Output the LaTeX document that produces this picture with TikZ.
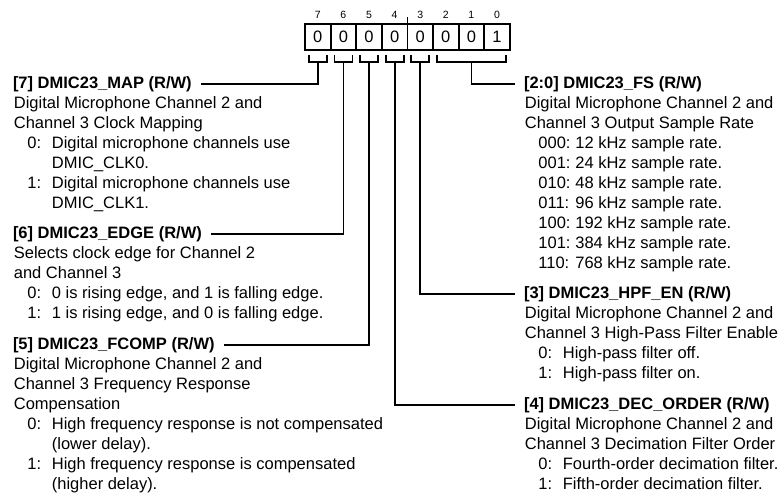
\documentclass[tikz,border=0pt]{standalone}
\usepackage{fontspec}
\setmainfont{Liberation Sans}
\usetikzlibrary{positioning}

% value lines: "0:  text", "000:  text" and wrapped continuation lines
\newcommand{\bitval}[2]{\hspace*{13.5pt}\makebox[24.5pt][l]{#1}#2}
\newcommand{\rateval}[2]{\hspace*{13.5pt}\makebox[37pt][l]{#1}#2}
\newcommand{\wrapln}[1]{\hspace*{38pt}#1}

\begin{document}
\begin{tikzpicture}[
    x=1pt, y=-1pt,
    line width=1.8pt,
    line join=miter,
    cell/.style={draw, minimum width=25.6pt, minimum height=26pt, inner sep=0pt, outer sep=0pt,
        font=\fontsize{16.5}{20}\selectfont},
    bitnum/.style={inner sep=0pt, font=\fontsize{10.5}{12}\selectfont},
    fieldhead/.style={anchor=base west, inner sep=0pt, outer xsep=9pt,
        font=\fontsize{16.5}{20}\selectfont\bfseries},
    % body nodes are placed by the baseline of their last line
    fieldbody/.style={anchor=base west, inner sep=0pt, align=left,
        font=\fontsize{16.5}{20}\selectfont}
]

\useasboundingbox (0,0) rectangle (782,496);

% Register cells, bit 7 on the left
\foreach \b/\v in {7/0,6/0,5/0,4/0,3/0,2/0,1/0,0/1} {
    \node[cell] (c\b) at ({317.8+25.6*(7-\b)}, 37) {\v};
    \node[bitnum, above=5pt of c\b] (n\b) {\b};
}

% Nibble tick
\draw (c4.north east) -- ++(0,-7);

% Brackets under single bits
\foreach \b in {7,6,5,4,3} {
    \draw ([xshift=-9pt,yshift=-5pt]c\b.south) -- ++(0,7) -- ++(18,0) -- ++(0,-7);
    \coordinate (s\b) at ([yshift=-12pt]c\b.south);
}

% Bracket under bits 2:0
\draw ([xshift=4pt,yshift=-5pt]c2.south west) -- ++(0,7) -| ([xshift=-4pt,yshift=-5pt]c0.south east);
\coordinate (s20) at ([yshift=-12pt]c1.south);

% Left fields
\node[fieldhead] (f7) at (4, 88.5) {[7] DMIC23\_MAP (R/W)};
\node[fieldbody] (d7) at (13, 208.5) {Digital Microphone Channel 2 and\\
    Channel 3 Clock Mapping\\
    \bitval{0:}{Digital microphone channels use}\\
    \wrapln{DMIC\_CLK0.}\\
    \bitval{1:}{Digital microphone channels use}\\
    \wrapln{DMIC\_CLK1.}};

\node[fieldhead] (f6) at (4, 238.5) {[6] DMIC23\_EDGE (R/W)};
\node[fieldbody] (d6) at (13, 318.5) {Selects clock edge for Channel 2\\
    and Channel 3\\
    \bitval{0:}{0 is rising edge, and 1 is falling edge.}\\
    \bitval{1:}{1 is rising edge, and 0 is falling edge.}};

\node[fieldhead] (f5) at (4, 349.5) {[5] DMIC23\_FCOMP (R/W)};
\node[fieldbody] (d5) at (13, 489.5) {Digital Microphone Channel 2 and\\
    Channel 3 Frequency Response\\
    Compensation\\
    \bitval{0:}{High frequency response is not compensated}\\
    \wrapln{(lower delay).}\\
    \bitval{1:}{High frequency response is compensated}\\
    \wrapln{(higher delay).}};

% Right fields
\node[fieldhead] (f20) at (515, 88.5) {[2:0] DMIC23\_FS (R/W)};
\node[fieldbody] (d20) at (524, 268.5) {Digital Microphone Channel 2 and\\
    Channel 3 Output Sample Rate\\
    \rateval{000:}{12 kHz sample rate.}\\
    \rateval{001:}{24 kHz sample rate.}\\
    \rateval{010:}{48 kHz sample rate.}\\
    \rateval{011:}{96 kHz sample rate.}\\
    \rateval{100:}{192 kHz sample rate.}\\
    \rateval{101:}{384 kHz sample rate.}\\
    \rateval{110:}{768 kHz sample rate.}};

\node[fieldhead] (f3) at (515, 298.5) {[3] DMIC23\_HPF\_EN (R/W)};
\node[fieldbody] (d3) at (524, 378.5) {Digital Microphone Channel 2 and\\
    Channel 3 High-Pass Filter Enable\\
    \bitval{0:}{High-pass filter off.}\\
    \bitval{1:}{High-pass filter on.}};

\node[fieldhead] (f4) at (515, 409.5) {[4] DMIC23\_DEC\_ORDER (R/W)};
\node[fieldbody] (d4) at (524, 489.5) {Digital Microphone Channel 2 and\\
    Channel 3 Decimation Filter Order\\
    \bitval{0:}{Fourth-order decimation filter.}\\
    \bitval{1:}{Fifth-order decimation filter.}};

% Leaders from bits to fields
\draw (s7) |- (f7.east);
\draw (s6) |- (f6.east);
\draw (s5) |- (f5.east);
\draw (s4) |- (f4.west);
\draw (s3) |- (f3.west);
\draw (s20) |- (f20.west);

\end{tikzpicture}
\end{document}
